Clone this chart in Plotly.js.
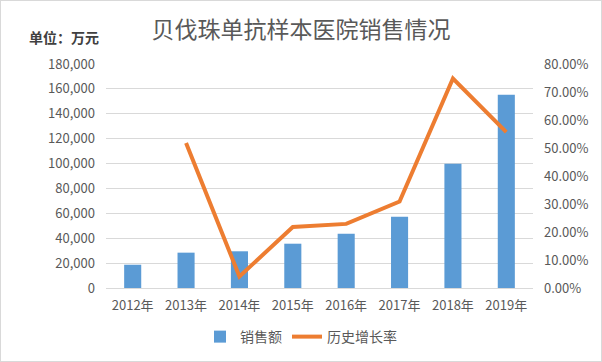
<!DOCTYPE html>
<html>
<head>
<meta charset="utf-8">
<script src="https://cdn.plot.ly/plotly-3.0.1.min.js"></script>
<style>
html,body{margin:0;padding:0;background:#fff;}
#chart{position:absolute;left:0;top:0;width:602px;height:362px;}
#frame{position:absolute;left:0;top:0;width:600px;height:360px;border:1px solid #d9d9d9;pointer-events:none;}
</style>
</head>
<body>
<div id="chart"></div>
<div id="frame"></div>
<script>
const years = ["2012年","2013年","2014年","2015年","2016年","2017年","2018年","2019年"];
const sales = [18700, 28400, 29500, 35600, 43600, 57300, 99900, 155300];
const growth = [null, 0.518, 0.041, 0.218, 0.229, 0.309, 0.748, 0.557];
const titleText = "贝伐珠单抗样本医院销售情况";
const unitText = "单位：万元";
const salesName = "销售额";
const growthName = "历史增长率";

const font = "'Noto Sans CJK SC', 'Noto Sans', sans-serif";

const data = [
  {
    type: "bar", x: years, y: sales, name: salesName,
    marker: {color: "#5B9BD5"}, yaxis: "y", hoverinfo: "none"
  },
  {
    type: "scatter", mode: "lines", x: years, y: growth, name: growthName,
    line: {color: "#ED7D31", width: 4}, yaxis: "y2", connectgaps: false, hoverinfo: "none"
  }
];

const layout = {
  width: 602, height: 362,
  margin: {l: 106, r: 69, t: 64, b: 74, autoexpand: false},
  paper_bgcolor: "#fff", plot_bgcolor: "#fff",
  font: {family: font, color: "#595959", size: 13},
  title: {text: titleText, x: 0.5, xanchor: "center", y: 0.918, yanchor: "middle",
          font: {family: font, size: 23, color: "#595959"}},
  bargap: 0.68,
  showlegend: true,
  legend: {orientation: "h", x: 0.5, xanchor: "center", xref: "container",
           yref: "container", y: 0.069, yanchor: "middle",
           font: {family: font, size: 14, color: "#595959"},
           itemwidth: 30, tracegroupgap: 0},
  xaxis: {
    type: "category", showgrid: false, zeroline: false, showline: false,
    ticks: "", tickfont: {family: font, size: 13, color: "#595959"},
    ticklabelstandoff: 8
  },
  yaxis: {
    range: [0, 180000], dtick: 20000, tickformat: ",d",
    showgrid: true, gridcolor: "#d9d9d9", gridwidth: 1,
    zeroline: true, zerolinecolor: "#d9d9d9", zerolinewidth: 1,
    showline: false, ticks: "", ticklabelstandoff: 10,
    tickfont: {family: font, size: 13, color: "#595959"}
  },
  yaxis2: {
    range: [0, 0.8], dtick: 0.1, tickformat: ".2%", overlaying: "y", side: "right",
    showgrid: false, zeroline: false, showline: false, ticks: "", ticklabelstandoff: 10,
    tickfont: {family: font, size: 13, color: "#595959"}
  },
  annotations: [
    {text: unitText, xref: "paper", yref: "paper", x: -0.185, y: 1.12,
     xanchor: "left", yanchor: "middle", showarrow: false,
     font: {family: font, size: 14, color: "#404040", weight: "bold"}}
  ]
};

Plotly.newPlot("chart", data, layout, {displayModeBar: false, staticPlot: true});
</script>
</body>
</html>
